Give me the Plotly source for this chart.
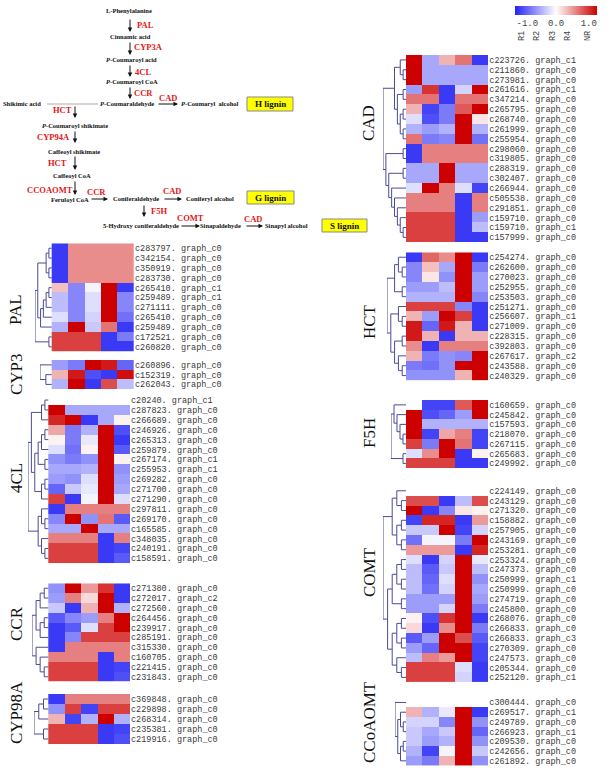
import plotly.graph_objects as go

W, H = 607, 780
N = None

# ---------------- data ----------------
columns = ["R1", "R2", "R3", "R4", "NR"]

PAL_labels = ["c283797. graph_c0", "c342154. graph_c0", "c350919. graph_c0", "c283730. graph_c0",
              "c265410. graph_c1", "c259489. graph_c1", "c271111. graph_c0", "c265410. graph_c0",
              "c259489. graph_c0", "c172521. graph_c0", "c260820. graph_c0"]
PAL_values = [[-0.9, 0.45, 0.45, 0.45, 0.45], [-0.9, 0.45, 0.45, 0.45, 0.45],
              [-0.9, 0.45, 0.45, 0.45, 0.45], [-0.9, 0.45, 0.45, 0.45, 0.45],
              [0.25, -0.55, -0.05, 1.0, -0.9], [-0.3, -0.55, -0.15, 1.0, -0.55],
              [-0.3, -0.55, -0.15, 1.0, -0.55], [-0.15, -0.55, -0.2, 1.0, -0.65],
              [-0.35, 1.0, -0.25, 0.55, -0.9], [0.75, 0.75, 0.75, -0.9, -0.6],
              [0.75, 0.75, 0.75, -0.9, -0.9]]
PAL_tree = ((((0, 1), (2, 3)), ((((4, 5), 6), 7), 8)), (9, 10))

CYP3_labels = ["c260896. graph_c0", "c152319. graph_c0", "c262043. graph_c0"]
CYP3_values = [[-0.45, -0.6, 1.0, 0.9, -0.7], [0.3, 0.9, -0.8, -0.9, 0.95],
               [-0.35, 1.0, -0.9, 0.7, -0.3]]
CYP3_tree = (0, (1, 2))

CL4_labels = ["c20240. graph_c1", "c287823. graph_c0", "c266689. graph_c0", "c246926. graph_c0",
              "c265313. graph_c0", "c259879. graph_c0", "c267174. graph_c1", "c255953. graph_c1",
              "c269282. graph_c0", "c271700. graph_c0", "c271290. graph_c0", "c297811. graph_c0",
              "c269170. graph_c0", "c165585. graph_c0", "c348035. graph_c0", "c240191. graph_c0",
              "c158591. graph_c0"]
CL4_values = [[N, N, N, N, N], [1.0, -0.4, -0.4, -0.4, -0.4], [0.85, 1.0, -0.9, -0.4, 0.05],
              [0.35, -0.6, -0.35, 1.0, -0.8], [0.05, -0.6, -0.1, 1.0, -0.9],
              [-0.15, -0.65, 0.05, 1.0, -0.75], [-0.5, -0.6, -0.5, 1.0, 0.05],
              [-0.4, -0.4, -0.35, 1.0, -0.5], [-0.45, -0.5, -0.15, 1.0, -0.45],
              [-0.7, -0.25, -0.1, 1.0, -0.4], [0.75, -0.9, -0.05, 1.0, -0.15],
              [-0.9, 0.5, 0.5, 0.5, 0.5], [-0.55, 1.0, -0.5, 0.55, -0.75],
              [-0.4, -0.4, 1.0, -0.4, -0.4], [0.5, 0.5, 0.5, -0.9, 0.5],
              [0.75, 0.75, 0.75, -0.9, -0.85], [0.75, 0.75, 0.75, -0.9, -0.75]]
CL4_tree = ((((0, 1), 2), ((((3, 4), 5), (6, 7)), ((8, 9), 10))), ((11, (12, 13)), (14, (15, 16))))

CCR_labels = ["c271380. graph_c0", "c272017. graph_c2", "c272560. graph_c0", "c264456. graph_c0",
              "c239917. graph_c0", "c285191. graph_c0", "c315330. graph_c0", "c160705. graph_c0",
              "c221415. graph_c0", "c231843. graph_c0"]
CCR_values = [[-0.5, 1.0, 0.4, 0.8, -0.9], [-0.45, 0.5, 0.15, 1.0, -0.9],
              [-0.25, -0.9, 0.3, 1.0, -0.35], [-0.75, -0.55, -0.45, 0.5, 1.0],
              [-0.9, -0.75, -0.15, 0.75, 1.0], [-0.9, -0.55, 0.75, 0.75, 0.75],
              [-0.9, 0.5, 0.5, 0.5, 0.5], [0.5, 0.5, 0.5, -0.9, 0.5],
              [0.75, 0.75, 0.75, -0.9, -0.85], [0.75, 0.75, 0.75, -0.9, -0.8]]
CCR_tree = ((((0, 1), 2), ((3, 4), 5)), (6, (7, (8, 9))))

CYP98A_labels = ["c369848. graph_c0", "c229898. graph_c0", "c268314. graph_c0",
                 "c235381. graph_c0", "c219916. graph_c0"]
CYP98A_values = [[-0.9, 0.5, 0.5, 0.5, 0.5], [-0.5, 0.75, -0.85, 0.75, 0.75],
                 [0.3, -0.85, -0.35, 1.0, -0.35], [0.75, 0.75, 0.75, -0.9, -0.85],
                 [0.75, 0.75, 0.75, -0.9, -0.8]]
CYP98A_tree = (((0, 1), 2), (3, 4))

CAD_labels = ["c223726. graph_c1", "c211860. graph_c0", "c273981. graph_c0", "c261616. graph_c1",
              "c347214. graph_c0", "c265795. graph_c0", "c268740. graph_c0", "c261999. graph_c0",
              "c255954. graph_c0", "c298060. graph_c0", "c319805. graph_c0", "c288319. graph_c0",
              "c302407. graph_c0", "c266944. graph_c0", "c505538. graph_c0", "c291851. graph_c0",
              "c159710. graph_c0", "c159710. graph_c1", "c157999. graph_c0"]
CAD_values = [[1.0, -0.4, 0.3, 0.55, -0.9], [1.0, -0.4, -0.4, -0.4, -0.4],
              [1.0, -0.4, -0.4, -0.4, -0.4], [-0.45, 0.8, -0.9, -0.2, 1.0],
              [0.55, 0.55, -0.9, 0.55, 0.55], [0.3, -0.85, -0.6, 0.65, 1.0],
              [-0.15, -0.8, -0.6, 1.0, 0.1], [-0.35, -0.45, -0.35, 1.0, -0.35],
              [0.55, -0.6, -0.55, 1.0, -0.65], [-0.9, 0.5, 0.5, 0.5, 0.5],
              [-0.9, 0.5, 0.5, 0.5, 0.5], [-0.4, -0.4, 1.0, -0.4, -0.4],
              [-0.4, -0.4, 1.0, -0.4, -0.4], [-0.15, 1.0, 0.5, -0.15, -0.85],
              [0.5, 0.5, 0.5, -0.9, 0.5], [0.5, 0.5, 0.5, -0.9, 0.5],
              [0.75, 0.75, 0.75, -0.9, -0.45], [0.75, 0.75, 0.75, -0.9, -0.3],
              [0.75, 0.75, 0.75, -0.9, -0.9]]
CAD_tree = (((0, (1, 2)), ((3, 4), ((5, 6), (7, 8)))),
            ((9, 10), ((11, 12), (13, (14, (15, (16, (17, 18))))))))

HCT_labels = ["c254274. graph_c0", "c262600. graph_c0", "c270023. graph_c0", "c252955. graph_c0",
              "c253503. graph_c0", "c251271. graph_c0", "c256607. graph_c1", "c271009. graph_c0",
              "c228315. graph_c0", "c392803. graph_c0", "c267617. graph_c2", "c243588. graph_c0",
              "c240329. graph_c0"]
HCT_values = [[-0.9, 0.6, 0.45, 1.0, -0.9], [-0.55, 0.25, -0.4, 1.0, -0.6],
              [-0.55, 0.1, -0.5, 1.0, -0.45], [-0.45, -0.45, -0.3, 1.0, -0.45],
              [-0.35, -0.35, -0.35, 1.0, -0.55], [0.75, 0.75, 0.75, -0.55, -0.9],
              [0.3, -0.45, 1.0, 0.75, -0.9], [0.9, -0.7, 0.9, 0.3, -0.9],
              [0.9, 0.3, -0.9, 0.3, 0.3], [0.45, -0.9, 0.5, 0.5, 0.5],
              [0.3, -0.6, -0.5, -0.55, 1.0], [-0.6, -0.65, -0.5, 1.0, 1.0],
              [-0.5, -0.5, -0.5, 0.3, 1.0]]
HCT_tree = (((0, (1, 2)), (3, 4)), ((5, (6, 7)), ((8, 9), (10, (11, 12)))))

F5H_labels = ["c160659. graph_c0", "c245842. graph_c0", "c157593. graph_c0", "c218070. graph_c0",
              "c267115. graph_c0", "c265683. graph_c0", "c249992. graph_c0"]
F5H_values = [[N, -0.85, -0.85, 0.65, 1.0], [1.0, -0.8, -0.7, -0.45, 1.0],
              [1.0, -0.35, -0.35, -0.35, -0.35], [1.0, -0.85, 0.35, 0.5, -0.85],
              [0.75, -0.6, 1.0, 0.55, -0.85], [-0.15, 0.45, 1.0, -0.9, 0.05],
              [0.75, 0.75, 0.75, -0.9, -0.9]]
F5H_tree = ((0, (1, (2, (3, 4)))), (5, 6))

COMT_labels = ["c224149. graph_c0", "c243129. graph_c0", "c271320. graph_c0", "c158882. graph_c0",
               "c257905. graph_c0", "c243169. graph_c0", "c253281. graph_c0", "c253324. graph_c0",
               "c247373. graph_c0", "c250999. graph_c1", "c250999. graph_c0", "c274719. graph_c0",
               "c245800. graph_c0", "c268076. graph_c0", "c266833. graph_c0", "c266833. graph_c3",
               "c270309. graph_c0", "c247573. graph_c0", "c205344. graph_c0", "c252120. graph_c1"]
COMT_values = [[N, N, N, N, N], [0.7, 0.7, -0.9, -0.3, 0.7], [1.0, -0.9, -0.55, 0.1, 0.05],
               [-0.85, 0.85, 0.85, -0.9, 0.4], [-0.25, -0.25, 1.0, -0.85, -0.2],
               [-0.65, -0.05, -0.05, -0.6, 1.0], [0.4, 0.4, 0.4, -0.9, 0.85],
               [-0.15, -0.9, -0.2, 1.0, -0.1], [-0.3, -0.75, -0.25, 1.0, -0.3],
               [-0.3, -0.7, -0.15, 1.0, -0.5], [-0.3, -0.65, -0.2, 1.0, -0.4],
               [-0.45, -0.45, -0.45, 1.0, -0.45], [-0.45, -0.45, -0.2, 1.0, -0.6],
               [0.05, -0.8, 0.8, 1.0, -0.9], [0.15, -0.9, 0.45, 1.0, -0.6],
               [-0.75, -0.45, 1.0, 0.7, -0.75], [-0.45, -0.7, 1.0, 1.0, -0.85],
               [-0.3, 0.5, 0.4, 1.0, -0.85], [0.75, 0.75, 0.75, -0.15, -0.9],
               [0.75, 0.75, 0.75, -0.2, -0.9]]
COMT_tree = (((0, (1, 2)), ((3, 4), (5, 6))),
             ((((7, 8), (9, 10)), (11, 12)), (((13, 14), (15, 16)), (17, (18, 19)))))

CCoAOMT_labels = ["c300444. graph_c0", "c269517. graph_c1", "c249789. graph_c0", "c266923. graph_c1",
                  "c209530. graph_c0", "c242656. graph_c0", "c261892. graph_c0"]
CCoAOMT_values = [[N, N, N, N, N], [0.3, -0.35, -0.1, 1.0, -0.9], [-0.2, -0.2, -0.55, 1.0, -0.5],
                  [-0.25, -0.4, -0.25, 1.0, -0.7], [-0.25, -0.45, -0.35, 1.0, -0.5],
                  [-0.35, -0.85, -0.05, 1.0, -0.25], [-0.45, -0.6, 0.3, 1.0, -0.5]]
CCoAOMT_tree = (0, ((1, (2, 3)), ((4, 5), 6)))

# ---------------- layout of panels (pixels) ----------------
# name, labels, values, tree, dendro_left, heat_left, heat_right, top, bottom, title_x, title_y
panels = [
    ("PAL", PAL_labels, PAL_values, PAL_tree, 35, 51.7, 134, 243.3, 351.7, 16, 310),
    ("CYP3", CYP3_labels, CYP3_values, CYP3_tree, 40, 51.7, 134, 360, 389.3, 16, 374),
    ("4CL", CL4_labels, CL4_values, CL4_tree, 28, 48.3, 130, 395.1, 563.3, 16, 478),
    ("CCR", CCR_labels, CCR_values, CCR_tree, 32, 48.3, 130, 583.3, 681.7, 16, 624),
    ("CYP98A", CYP98A_labels, CYP98A_values, CYP98A_tree, 34, 48.3, 130, 694, 744, 16, 713),
    ("CAD", CAD_labels, CAD_values, CAD_tree, 383, 406, 488.3, 55, 242.3, 368, 123),
    ("HCT", HCT_labels, HCT_values, HCT_tree, 387, 406, 488.3, 252.3, 380.5, 369, 322),
    ("F5H", F5H_labels, F5H_values, F5H_tree, 391, 406, 488.3, 400, 468.3, 369, 433),
    ("COMT", COMT_labels, COMT_values, COMT_tree, 383, 406, 488.3, 485.9, 682.3, 369, 572),
    ("CCoAOMT", CCoAOMT_labels, CCoAOMT_values, CCoAOMT_tree, 395, 406, 488.3, 697.6, 765.7, 369, 722),
]

colorscale = [[0.0, "rgb(35,35,245)"], [0.5, "rgb(255,255,255)"], [1.0, "rgb(205,0,0)"]]
DENDRO_COLOR = "rgb(75,75,150)"


def X(px):
    return px / W


def Y(py):
    return 1 - py / H


def dendro(tree):
    """Return (y, h, segments) for a nested tuple tree."""
    if isinstance(tree, int):
        return float(tree), 0.0, []
    kids = [dendro(t) for t in tree]
    h = 1 + max(k[1] for k in kids)
    ys = [k[0] for k in kids]
    segs = []
    for ky, kh, ks in kids:
        segs += ks
        segs.append(((kh, ky), (h, ky)))
    segs.append(((h, min(ys)), (h, max(ys))))
    return sum(ys) / len(ys), h, segs


def text_ann(text, px, py, size, color, family="Liberation Serif", angle=0):
    return dict(text=text, x=X(px), y=Y(py), xref="paper", yref="paper", showarrow=False,
                textangle=angle, xanchor="center", yanchor="middle",
                font=dict(family=family, size=size, color=color))


fig = go.Figure()
annotations = []

for i, (name, labels, values, tree, dl, hl, hr, top, bot, tx, ty) in enumerate(panels, start=1):
    n = len(labels)
    cw = (hr - hl) / 5.0
    k = (hl - dl) / cw
    xa = "x" if i == 1 else f"x{i}"
    ya = "y" if i == 1 else f"y{i}"
    trace = dict(z=values, x=list(range(5)), y=list(range(n)), colorscale=colorscale,
                 zmin=-1, zmax=1, xaxis=xa, yaxis=ya, hoverongaps=False, showscale=(i == 1))
    if i == 1:
        trace["colorbar"] = dict(orientation="h", x=X(515), xanchor="left", y=Y(6), yanchor="top",
                                 lenmode="pixels", len=82, thickness=9, xpad=0, ypad=0,
                                 outlinewidth=0, tickvals=[-0.7, 0.0, 0.8], ticktext=["-1.0", "0.0", "1.0"],
                                 ticks="", tickfont=dict(family="Liberation Mono", size=9, color="#444"))
    fig.add_trace(go.Heatmap(**trace))
    _, root_h, segs = dendro(tree)
    xs, ys = [], []
    for (h0, y0), (h1, y1) in segs:
        xs += [-0.5 - h0 / root_h * k, -0.5 - h1 / root_h * k, None]
        ys += [y0, y1, None]
    fig.add_trace(go.Scatter(x=xs, y=ys, mode="lines", xaxis=xa, yaxis=ya,
                             line=dict(color=DENDRO_COLOR, width=1), hoverinfo="skip", showlegend=False))
    key = "" if i == 1 else str(i)
    fig.layout["xaxis" + key] = dict(domain=[X(dl), X(hr)], range=[-0.5 - k, 4.5], visible=False,
                                     anchor=ya, fixedrange=True)
    fig.layout["yaxis" + key] = dict(domain=[Y(bot), Y(top)], range=[n - 0.5, -0.5], anchor=xa,
                                     side="right", tickvals=list(range(n)), ticktext=labels,
                                     showgrid=False, zeroline=False, showline=False, ticks="",
                                     tickfont=dict(family="Liberation Mono", size=8.5, color="#3a3a3a"),
                                     fixedrange=True)
    annotations.append(text_ann(name, tx, ty, 17, "#111", angle=-90))

# column labels next to the colour bar
col_label_x = [522, 537, 553, 568, 588]
for c, cx in zip(columns, col_label_x):
    annotations.append(text_ann(c, cx, 36, 8.5, "#444", family="Liberation Mono", angle=-90))

# ---------------- pathway diagram ----------------
black_texts = [("L-Phenylalanine", 129, 10.7), ("Cinnamic acid", 130, 36.7),
               ("<i>P</i>-Coumaroyl acid", 131, 60), ("<i>P</i>-Coumaroyl CoA", 132, 81.7),
               ("Shikimic acid", 22, 104), ("<i>P</i>-Coumaraldehyde", 127, 104),
               ("<i>P</i>-Coumaryl  alcohol", 210, 104), ("<i>P</i>-Coumaroyl shikimate", 75, 125.7),
               ("Caffeoyl shikimate", 74, 151.7), ("Caffeoyl CoA", 72, 175.7),
               ("Feruloyl CoA", 70, 199), ("Coniferaldehyde", 136, 198.3),
               ("Coniferyl alcohol", 210, 198.3), ("5-Hydroxy coniferaldehyde", 141, 225.7),
               ("Sinapaldehyde", 220, 225.7), ("Sinapyl alcohol", 286, 225.7)]
red_texts = [("PAL", 145, 24.5), ("CYP3A", 148, 46.5), ("4CL", 143, 71.5), ("CCR", 143, 92.5),
             ("CAD", 168, 98), ("HCT", 62, 110.5), ("CYP94A", 53, 137), ("HCT", 57, 163.3),
             ("CCOAOMT", 50, 190), ("CCR", 97, 192), ("CAD", 172, 190.5), ("F5H", 159, 210.7),
             ("COMT", 190, 218.3), ("CAD", 253, 219.3)]
for t, px, py in black_texts:
    annotations.append(text_ann(f"<b>{t}</b>", px, py, 6.5, "#111"))
for t, px, py in red_texts:
    annotations.append(text_ann(f"<b>{t}</b>", px, py, 8.5, "#e01818"))

arrows = [((130, 18), (130, 32)), ((130, 41), (130, 55)), ((130, 64), (130, 77)), ((130, 86), (130, 99)),
          ((157, 104), (178, 104)), ((75, 105), (75, 118)), ((75, 130), (75, 143)), ((75, 155), (75, 170)),
          ((75, 180), (75, 195)), ((90, 199), (108, 199)), ((163, 199), (182, 199)),
          ((144, 204), (144, 217)), ((180, 226), (200, 226)), ((245, 226), (263, 226))]
for (x0, y0), (x1, y1) in arrows:
    annotations.append(dict(text="", x=X(x1), y=Y(y1), xref="paper", yref="paper", showarrow=True,
                            ax=x0 - x1, ay=y0 - y1, axref="pixel", ayref="pixel", arrowhead=2,
                            arrowsize=0.9, arrowwidth=1, arrowcolor="#111", standoff=0, startstandoff=0))

shapes = [dict(type="line", xref="paper", yref="paper", x0=X(47), x1=X(98), y0=Y(104), y1=Y(104),
               line=dict(color="#aaaaaa", width=1))]
boxes = [("H lignin", 247, 97, 293, 111), ("G lignin", 247, 191, 294, 204), ("S lignin", 322, 219, 367, 232)]
for t, x0, y0, x1, y1 in boxes:
    shapes.append(dict(type="rect", xref="paper", yref="paper", x0=X(x0), x1=X(x1), y0=Y(y1), y1=Y(y0),
                       fillcolor="rgb(255,255,0)", line=dict(color="#888888", width=1)))
    annotations.append(text_ann(f"<b>{t}</b>", (x0 + x1) / 2, (y0 + y1) / 2, 9, "#111"))

fig.update_layout(width=W, height=H, margin=dict(l=0, r=0, t=0, b=0), paper_bgcolor="white",
                  plot_bgcolor="white", showlegend=False, annotations=annotations, shapes=shapes)

fig.write_html("out.html", config={"displayModeBar": False},
               post_script="document.body.style.margin='0px';")
